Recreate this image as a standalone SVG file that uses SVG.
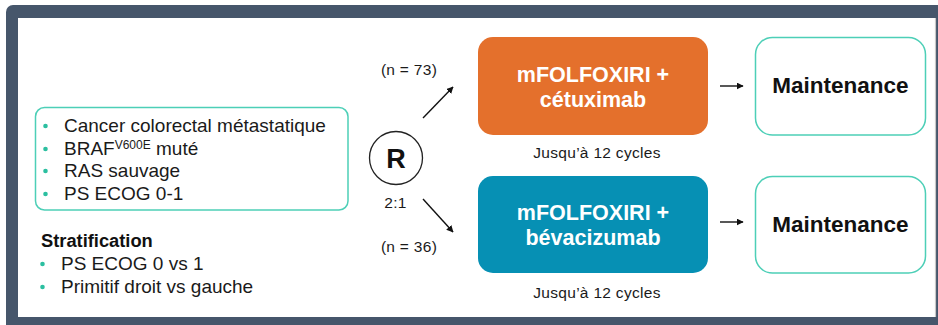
<svg xmlns="http://www.w3.org/2000/svg" width="938" height="325" viewBox="0 0 938 325">
  <style>
    text { font-family: "Liberation Sans", Arial, sans-serif; }
    .body { font-size: 19px; fill: #1a1a1a; }
    .small { font-size: 15.5px; fill: #1a1a1a; letter-spacing: 0.3px; }
    .bullet { fill: #2bbfa0; }
    .arm { font-size: 21.5px; font-weight: bold; fill: #ffffff; text-anchor: middle; }
    .maint { font-size: 22.5px; font-weight: bold; fill: #111111; text-anchor: middle; }
    .outline { fill: #ffffff; stroke: #4dcfb7; stroke-width: 1.5; }
    .conn { stroke: #111111; stroke-width: 1.4; fill: none; marker-end: url(#head); }
  </style>
  <defs>
    <marker id="head" viewBox="0 0 10 10" refX="9" refY="5" markerWidth="7" markerHeight="7" markerUnits="userSpaceOnUse" orient="auto">
      <path d="M0,0 L10,5 L0,10 z" fill="#111111"/>
    </marker>
  </defs>

  <!-- page frame -->
  <rect x="0" y="0" width="938" height="325" fill="#ffffff"/>
  <rect x="6" y="5" width="950" height="340" rx="7" fill="#46566b"/>
  <rect x="18" y="18" width="917" height="299" fill="#ffffff"/>
  <line x1="935.5" y1="18" x2="935.5" y2="317" stroke="#c9c9c9" stroke-width="1.2"/>

  <!-- inclusion criteria -->
  <g id="criteria">
    <rect class="outline" x="35.5" y="107.5" width="312.5" height="102.5" rx="9"/>
    <circle class="bullet" cx="45.5" cy="126" r="2.3"/>
    <circle class="bullet" cx="45.5" cy="149" r="2.3"/>
    <circle class="bullet" cx="45.5" cy="171" r="2.3"/>
    <circle class="bullet" cx="45.5" cy="194" r="2.3"/>
    <text class="body" x="64" y="132">Cancer colorectal métastatique</text>
    <text class="body" x="64" y="155">BRAF<tspan font-size="12" dy="-6">V600E</tspan><tspan dy="6"> muté</tspan></text>
    <text class="body" x="64" y="177">RAS sauvage</text>
    <text class="body" x="64" y="200">PS ECOG 0-1</text>
  </g>

  <!-- stratification factors -->
  <g id="stratification">
    <text x="41" y="247" font-size="18.3" font-weight="bold" fill="#111111">Stratification</text>
    <circle class="bullet" cx="42.5" cy="264" r="2.3"/>
    <circle class="bullet" cx="42.5" cy="287" r="2.3"/>
    <text class="body" x="61" y="270">PS ECOG 0 vs 1</text>
    <text class="body" x="61" y="293">Primitif droit vs gauche</text>
  </g>

  <!-- randomisation -->
  <g id="randomisation">
    <circle cx="396" cy="158" r="26.5" fill="#ffffff" stroke="#222222" stroke-width="1.3"/>
    <text x="396" y="168" font-size="27" font-weight="bold" fill="#111111" text-anchor="middle">R</text>
    <text class="small" x="395.5" y="208" text-anchor="middle">2:1</text>
  </g>

  <!-- arm A -->
  <g id="arm-cetuximab">
    <rect x="478" y="37" width="230" height="98" rx="15" fill="#e4702c"/>
    <text class="arm" x="593" y="82">mFOLFOXIRI +</text>
    <text class="arm" x="593" y="107">cétuximab</text>
    <text class="small" x="597" y="158" text-anchor="middle">Jusqu’à 12 cycles</text>
  </g>

  <!-- arm B -->
  <g id="arm-bevacizumab">
    <rect x="478" y="176" width="230" height="97" rx="15" fill="#0690b4"/>
    <text class="arm" x="593" y="220">mFOLFOXIRI +</text>
    <text class="arm" x="593" y="245">bévacizumab</text>
    <text class="small" x="597" y="298" text-anchor="middle">Jusqu’à 12 cycles</text>
  </g>

  <!-- maintenance phases -->
  <g id="maintenance-a">
    <rect class="outline" x="755.5" y="37.5" width="170" height="97.5" rx="17"/>
    <text class="maint" x="840.5" y="93">Maintenance</text>
  </g>
  <g id="maintenance-b">
    <rect class="outline" x="755.5" y="176.5" width="170" height="96.5" rx="17"/>
    <text class="maint" x="840.5" y="232">Maintenance</text>
  </g>

  <!-- arm sizes -->
  <text class="small" x="409" y="75" text-anchor="middle">(n = 73)</text>
  <text class="small" x="409" y="252" text-anchor="middle">(n = 36)</text>

  <!-- connectors -->
  <g id="connectors">
    <path class="conn" d="M423,118 L453,87"/>
    <path class="conn" d="M423,199 L453,232"/>
    <path class="conn" d="M720,86 L743,86"/>
    <path class="conn" d="M720,222 L743,222"/>
  </g>
</svg>
